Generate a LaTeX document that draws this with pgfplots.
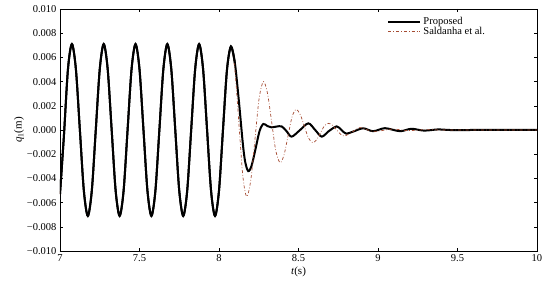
\documentclass[border=0pt]{standalone}
\usepackage{fontspec}
\setmainfont{Liberation Serif}
\usepackage{pgfplots}
\usepackage{pgfplotstable}
\pgfplotsset{compat=1.18}
\definecolor{sald}{RGB}{165,75,50}

% common part (t < 8.075): 5 Hz, amplitude ~0.0071
\pgfplotstableread{
t q
7.000 -0.00530
7.025 -0.00040
7.050 0.00502
7.075 0.00710
7.100 0.00502
7.125 0
7.150 -0.00502
7.175 -0.00710
7.200 -0.00502
7.225 0
7.250 0.00502
7.275 0.00710
7.300 0.00502
7.325 0
7.350 -0.00502
7.375 -0.00710
7.400 -0.00502
7.425 0
7.450 0.00502
7.475 0.00710
7.500 0.00502
7.525 0
7.550 -0.00502
7.575 -0.00710
7.600 -0.00502
7.625 0
7.650 0.00502
7.675 0.00710
7.700 0.00502
7.725 0
7.750 -0.00502
7.775 -0.00710
7.800 -0.00502
7.825 0
7.850 0.00502
7.875 0.00710
7.900 0.00502
7.925 0
7.950 -0.00502
7.975 -0.00710
8.000 -0.00502
8.025 0
8.050 0.00495
8.075 0.00690
8.100 0.00553
8.125 0.00240
8.150 -0.00114
8.165 -0.00265
8.184 -0.00340
8.205 -0.00295
8.230 -0.00155
8.255 -0.00009
8.279 0.00050
8.305 0.00032
8.330 0.00022
8.360 0.00028
8.394 0.00030
8.425 -0.00010
8.457 -0.00055
8.510 0.00000
8.562 0.00055
8.605 0.00000
8.646 -0.00055
8.690 -0.00010
8.740 0.00030
8.770 0.00000
8.800 -0.00030
8.850 -0.00010
8.907 0.00014
8.970 -0.00010
9.044 0.00015
9.138 -0.00010
9.210 0.00010
9.290 -0.00005
9.380 0.00005
9.450 0
9.600 0
9.800 0
10.000 0
}\proposed

\pgfplotstableread{
t q
7.000 -0.00530
7.025 -0.00040
7.050 0.00502
7.075 0.00710
7.100 0.00502
7.125 0
7.150 -0.00502
7.175 -0.00710
7.200 -0.00502
7.225 0
7.250 0.00502
7.275 0.00710
7.300 0.00502
7.325 0
7.350 -0.00502
7.375 -0.00710
7.400 -0.00502
7.425 0
7.450 0.00502
7.475 0.00710
7.500 0.00502
7.525 0
7.550 -0.00502
7.575 -0.00710
7.600 -0.00502
7.625 0
7.650 0.00502
7.675 0.00710
7.700 0.00502
7.725 0
7.750 -0.00502
7.775 -0.00710
7.800 -0.00502
7.825 0
7.850 0.00502
7.875 0.00710
7.900 0.00502
7.925 0
7.950 -0.00502
7.975 -0.00710
8.000 -0.00502
8.025 0
8.050 0.00495
8.075 0.00690
8.100 0.00495
8.125 0.00056
8.150 -0.00381
8.174 -0.00550
8.200 -0.00413
8.226 -0.00080
8.252 0.00258
8.279 0.00400
8.305 0.00304
8.331 0.00068
8.357 -0.00170
8.384 -0.00270
8.409 -0.00206
8.434 -0.00050
8.459 0.00106
8.484 0.00170
8.510 0.00130
8.536 0.00034
8.562 -0.00064
8.589 -0.00105
8.613 -0.00082
8.638 -0.00025
8.662 0.00032
8.687 0.00055
8.713 0.00040
8.739 0.00003
8.765 -0.00035
8.790 -0.00050
8.840 -0.00015
8.887 0.00020
8.940 -0.00002
8.990 -0.00012
9.090 0.00008
9.190 -0.00005
9.300 0.00003
9.400 0
9.600 0
9.800 0
10.000 0
}\saldanha

\begin{document}
\begin{tikzpicture}
\useasboundingbox (-60pt,-35pt) rectangle (490pt,251pt);
\begin{axis}[
    scale only axis,
    width=477pt, height=242pt,
    at={(0,0)}, anchor=south west,
    xmin=7, xmax=10,
    ymin=-0.01, ymax=0.01,
    xtick={7,7.5,8,8.5,9,9.5,10},
    xticklabels={7,7.5,8,8.5,9,9.5,10},
    ytick={-0.01,-0.008,-0.006,-0.004,-0.002,0,0.002,0.004,0.006,0.008,0.01},
    yticklabels={−0.010,−0.008,−0.006,−0.004,−0.002,0.000,0.002,0.004,0.006,0.008,0.010},
    scaled y ticks=false,
    tick align=inside,
    tick style={black, thin},
    major tick length=3pt,
    axis line style={black, thin},
    tick label style={font=\fontsize{10.5}{12}\selectfont},
    label style={font=\fontsize{11}{13}\selectfont},
    xlabel={\textit{t}(s)},
    ylabel={\textit{q}\textsubscript{1}(m)},
    xlabel style={yshift=2pt},
    ylabel style={yshift=-4pt},
    legend style={draw=none, fill=none, at={(0.684,0.978)}, anchor=north west,
        font=\fontsize{10.5}{12}\selectfont, row sep=-3pt,
        inner sep=1pt, legend cell align=left,
        /tikz/every even column/.append style={column sep=1pt}},
    legend image code/.code={\draw[#1] (0pt,0pt) -- (32pt,0pt);},
  ]
  \addplot[black, line width=2pt, smooth] table[x=t, y=q] {\proposed};
  \addlegendentry{Proposed}
  \addplot[sald, line width=0.7pt, dash dot, smooth] table[x=t, y=q] {\saldanha};
  \addlegendentry{Saldanha et al.}
  % keep the thick line on top where both coincide
  \addplot[black, line width=2pt, smooth, forget plot, restrict x to domain=7:8.1] table[x=t, y=q] {\proposed};
\end{axis}
\end{tikzpicture}
\end{document}
